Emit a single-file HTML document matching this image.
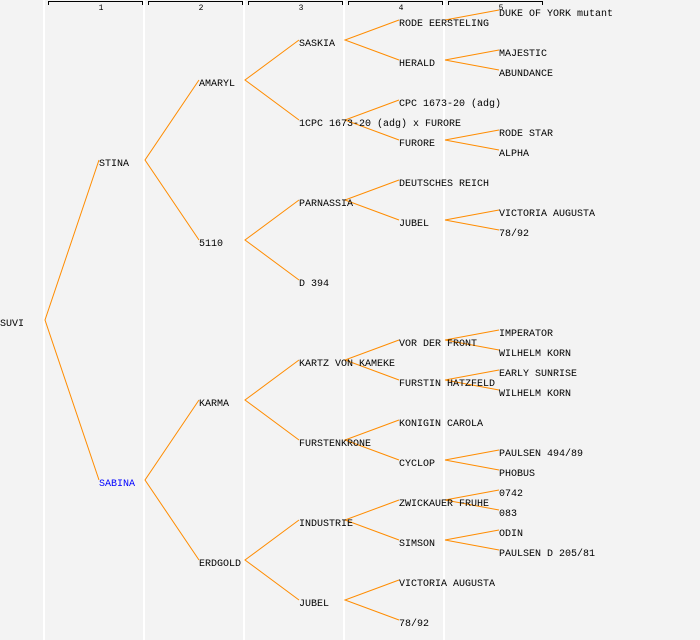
<!DOCTYPE html>
<html><head><meta charset="utf-8"><style>
html,body{margin:0;padding:0;background:#f3f3f3;}
svg{display:block;}
text{font-family:"Liberation Mono",monospace;font-size:10px;fill:#000;}
.n{font-size:8px;text-anchor:middle;}
</style></head><body>
<svg width="700" height="640" viewBox="0 0 700 640" xmlns="http://www.w3.org/2000/svg">
<rect width="700" height="640" fill="#f3f3f3"/>
<g stroke="#fff" stroke-width="2">
<line x1="44" y1="0" x2="44" y2="640"/><line x1="144" y1="0" x2="144" y2="640"/>
<line x1="244" y1="0" x2="244" y2="640"/><line x1="344" y1="0" x2="344" y2="640"/>
<line x1="444" y1="0" x2="444" y2="640"/>
</g>
<g stroke="#000" stroke-width="1" fill="none">
<path d="M48.5 5V1.5H142.5V5"/><path d="M148.5 5V1.5H242.5V5"/><path d="M248.5 5V1.5H342.5V5"/><path d="M348.5 5V1.5H442.5V5"/><path d="M448.5 5V1.5H542.5V5"/>
</g>
<text class="n" x="101" y="10">1</text><text class="n" x="201" y="10">2</text><text class="n" x="301" y="10">3</text><text class="n" x="401" y="10">4</text><text class="n" x="501" y="10">5</text>
<g stroke="#ff8c00" stroke-width="1" fill="none">
<path d="M99 160L45 320L99 480"/>
<path d="M199 80L145 160L199 240M199 400L145 480L199 560"/>
<path d="M299 40L245 80L299 120M299 200L245 240L299 280M299 360L245 400L299 440M299 520L245 560L299 600"/>
<path d="M399 20L345 40L399 60M399 100L345 120L399 140M399 180L345 200L399 220M399 340L345 360L399 380M399 420L345 440L399 460M399 500L345 520L399 540M399 580L345 600L399 620"/>
<path d="M445 20L499 10M499 50L445 60L499 70M499 130L445 140L499 150M499 210L445 220L499 230M499 330L445 340L499 350M499 370L445 380L499 390M499 450L445 460L499 470M499 490L445 500L499 510M499 530L445 540L499 550"/>
</g>
<text x="0" y="326">SUVI</text>
<text x="99" y="166">STINA</text>
<text x="99" y="486" style="fill:#0000ff">SABINA</text>
<text x="199" y="86">AMARYL</text>
<text x="199" y="246">5110</text>
<text x="199" y="406">KARMA</text>
<text x="199" y="566">ERDGOLD</text>
<text x="299" y="46">SASKIA</text>
<text x="299" y="126">1CPC 1673-20 (adg) x FURORE</text>
<text x="299" y="206">PARNASSIA</text>
<text x="299" y="286">D 394</text>
<text x="299" y="366">KARTZ VON KAMEKE</text>
<text x="299" y="446">FURSTENKRONE</text>
<text x="299" y="526">INDUSTRIE</text>
<text x="299" y="606">JUBEL</text>
<text x="399" y="26">RODE EERSTELING</text>
<text x="399" y="66">HERALD</text>
<text x="399" y="106">CPC 1673-20 (adg)</text>
<text x="399" y="146">FURORE</text>
<text x="399" y="186">DEUTSCHES REICH</text>
<text x="399" y="226">JUBEL</text>
<text x="399" y="346">VOR DER FRONT</text>
<text x="399" y="386">FURSTIN HATZFELD</text>
<text x="399" y="426">KONIGIN CAROLA</text>
<text x="399" y="466">CYCLOP</text>
<text x="399" y="506">ZWICKAUER FRUHE</text>
<text x="399" y="546">SIMSON</text>
<text x="399" y="586">VICTORIA AUGUSTA</text>
<text x="399" y="626">78/92</text>
<text x="499" y="16">DUKE OF YORK mutant</text>
<text x="499" y="56">MAJESTIC</text>
<text x="499" y="76">ABUNDANCE</text>
<text x="499" y="136">RODE STAR</text>
<text x="499" y="156">ALPHA</text>
<text x="499" y="216">VICTORIA AUGUSTA</text>
<text x="499" y="236">78/92</text>
<text x="499" y="336">IMPERATOR</text>
<text x="499" y="356">WILHELM KORN</text>
<text x="499" y="376">EARLY SUNRISE</text>
<text x="499" y="396">WILHELM KORN</text>
<text x="499" y="456">PAULSEN 494/89</text>
<text x="499" y="476">PHOBUS</text>
<text x="499" y="496">0742</text>
<text x="499" y="516">083</text>
<text x="499" y="536">ODIN</text>
<text x="499" y="556">PAULSEN D 205/81</text>
</svg>
</body></html>
